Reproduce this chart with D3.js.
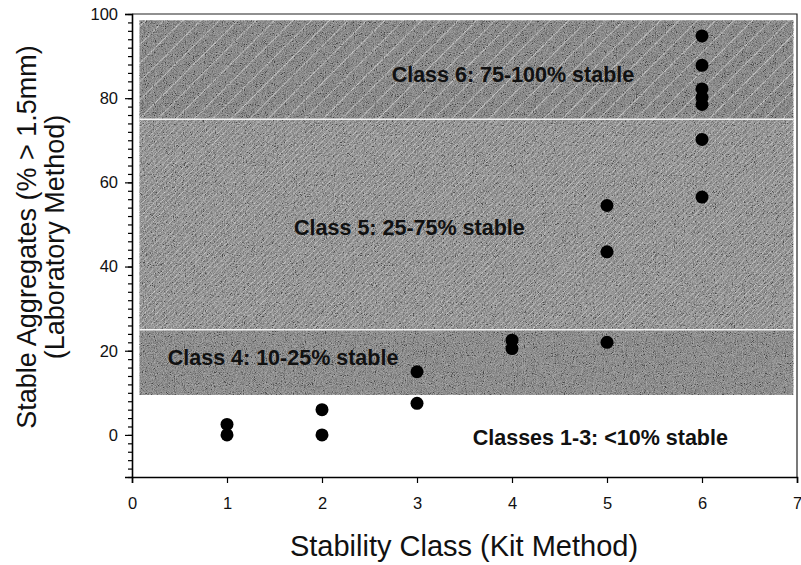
<!DOCTYPE html>
<html>
<head>
<meta charset="utf-8">
<script src="https://cdn.jsdelivr.net/npm/d3@7"></script>
<style>
  body { margin: 0; background: #fff; }
  svg { display: block; font-family: Arial, "Liberation Sans", sans-serif; }
</style>
</head>
<body>
<svg id="chart" width="801" height="565"></svg>
<script>
// Data
const classX = [1, 1, 2, 2, 3, 3, 4, 4, 5, 5, 5, 6, 6, 6, 6, 6, 6, 6];
const labY   = [2.5, 0, 6, 0, 15, 7.5, 22.5, 20.5, 54.5, 43.5, 22, 94.8, 87.8, 82.2, 80.2, 78.5, 70.2, 56.5];

const xTicks = [0, 1, 2, 3, 4, 5, 6, 7];
const yTicks = [0, 20, 40, 60, 80, 100];

// Shaded bands: [low, high], pattern id
const bandLow   = [9.5, 25, 75];
const bandHigh  = [25, 75, 98.5];
const bandFill  = ['band4', 'band5', 'band6'];
const bandLabel = ['Class 4: 10-25% stable', 'Class 5: 25-75% stable', 'Class 6: 75-100% stable', 'Classes 1-3: <10% stable'];
const labelX    = [1.59, 2.92, 4.01, 4.93];
const labelY    = [16.5, 47.4, 83.8, -2.3];

const svg = d3.select('#chart');

const x = d3.scaleLinear().domain([0, 7]).range([132, 797]);
const y = d3.scaleLinear().domain([-10, 100]).range([477, 14]);

// Patterns and grain
const defs = svg.append('defs');

const grain = defs.append('filter').attr('id', 'grain')
  .attr('x', 0).attr('y', 0).attr('width', 1).attr('height', 1);
grain.append('feTurbulence').attr('type', 'fractalNoise')
  .attr('baseFrequency', 1.1).attr('numOctaves', 2).attr('seed', 3);
grain.append('feColorMatrix').attr('type', 'matrix')
  .attr('values', '1.2 1.2 0 0 -0.75  1.2 1.2 0 0 -0.75  1.2 1.2 0 0 -0.75  0 0 0 0 0.4');

function hatch(id, base, gap, width, opacity) {
  const p = defs.append('pattern').attr('id', id)
    .attr('patternUnits', 'userSpaceOnUse')
    .attr('width', gap).attr('height', gap)
    .attr('patternTransform', 'rotate(45)');
  p.append('rect').attr('width', gap).attr('height', gap).attr('fill', base);
  if (width > 0) {
    p.append('line').attr('x1', 0).attr('y1', 0).attr('x2', 0).attr('y2', gap)
      .attr('stroke', '#fff').attr('stroke-width', width).attr('stroke-opacity', opacity);
  }
}
hatch('band4', '#747474', 8, 0, 0);
hatch('band5', '#7a7a7a', 4.2, 1.2, 0.6);
hatch('band6', '#6e6e6e', 13, 1.3, 0.85);

// Bands
const bx0 = x(0.08), bx1 = x(6.96);
svg.append('g').selectAll('rect')
  .data(bandLow)
  .join('rect')
  .attr('x', bx0)
  .attr('width', bx1 - bx0)
  .attr('y', (d, i) => y(bandHigh[i]))
  .attr('height', (d, i) => y(d) - y(bandHigh[i]))
  .attr('fill', (d, i) => `url(#${bandFill[i]})`);

// grain over shaded area
svg.append('rect')
  .attr('x', bx0).attr('width', bx1 - bx0)
  .attr('y', y(98.5)).attr('height', y(9.5) - y(98.5))
  .attr('filter', 'url(#grain)');

// White boundaries between bands
svg.append('g').selectAll('line')
  .data([25, 75])
  .join('line')
  .attr('x1', bx0).attr('x2', bx1)
  .attr('y1', d => y(d)).attr('y2', d => y(d))
  .attr('stroke', '#f4f4f4').attr('stroke-width', 1.5);

// Band labels
svg.append('g').selectAll('text')
  .data(bandLabel)
  .join('text')
  .attr('font-weight', 'bold')
  .attr('font-size', 21.5)
  .attr('fill', '#111')
  .attr('text-anchor', 'middle')
  .attr('x', (d, i) => x(labelX[i]))
  .attr('y', (d, i) => y(labelY[i]))
  .text(d => d);

// Frame (top and right)
svg.append('path')
  .attr('d', `M${x(0)},${y(100)}H${x(7)}V${y(-10)}`)
  .attr('fill', 'none').attr('stroke', '#222').attr('stroke-width', 1.2);

// Axes
const xAxis = svg.append('g')
  .attr('transform', `translate(0,${y(-10)})`)
  .call(d3.axisBottom(x).tickValues(xTicks).tickSize(6).tickPadding(14).tickFormat(d3.format('d')));

const yMinor = svg.append('g')
  .attr('transform', `translate(${x(0)},0)`)
  .call(d3.axisLeft(y).tickValues(d3.range(-10, 101, 2)).tickSize(4).tickFormat(''));
yMinor.select('.domain').remove();

const yAxis = svg.append('g')
  .attr('transform', `translate(${x(0)},0)`)
  .call(d3.axisLeft(y).tickValues(yTicks).tickSize(7).tickPadding(7));

[xAxis, yAxis, yMinor].forEach(g => {
  g.selectAll('.domain').attr('stroke', '#000').attr('stroke-width', 1.6);
  g.selectAll('.tick line').attr('stroke', '#000').attr('stroke-width', 1.2);
  g.selectAll('.tick text').attr('font-size', 16.5).attr('fill', '#111')
    .attr('font-family', 'Arial, "Liberation Sans", sans-serif');
});

// Points
svg.append('g').selectAll('circle')
  .data(classX)
  .join('circle')
  .attr('cx', d => x(d))
  .attr('cy', (d, i) => y(labY[i]))
  .attr('r', 6.5)
  .attr('fill', '#000');

// Axis titles
svg.append('text')
  .attr('x', 464).attr('y', 556)
  .attr('text-anchor', 'middle')
  .attr('font-size', 29).attr('fill', '#111')
  .text('Stability Class (Kit Method)');

const yTitle = svg.append('text')
  .attr('transform', 'translate(0,237) rotate(-90)')
  .attr('text-anchor', 'middle')
  .attr('font-size', 27).attr('fill', '#111');
yTitle.append('tspan').attr('x', 0).attr('y', 36).text('Stable Aggregates (% > 1.5mm)');
yTitle.append('tspan').attr('x', 0).attr('y', 64).text('(Laboratory Method)');
</script>
</body>
</html>
